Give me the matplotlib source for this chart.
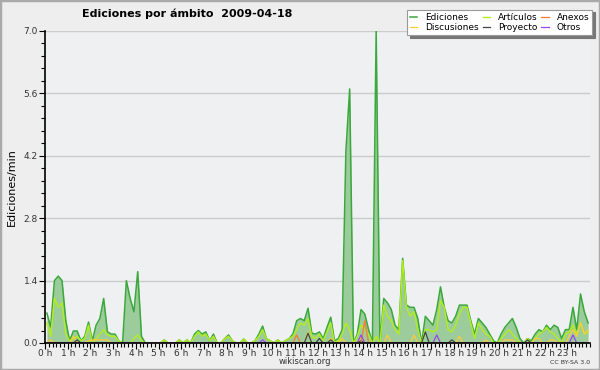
import matplotlib
matplotlib.use('Agg')
import matplotlib.pyplot as plt
from matplotlib.patches import Rectangle
from matplotlib.ticker import MultipleLocator
import numpy as np

# one value every 10 minutes, 6 per row = 1 hour per row
ediciones = [
    0.67, 0.36, 1.4, 1.5, 1.4, 0.5,  0.05, 0.27, 0.27, 0.05, 0.15, 0.47,
    0.05, 0.4, 0.55, 1.0, 0.25, 0.2,  0.2, 0.05, 0.0, 1.4, 1.0, 0.7,
    1.6, 0.15, 0, 0, 0, 0,  0, 0.07, 0, 0, 0, 0.07,
    0, 0.07, 0, 0.2, 0.28, 0.2,  0.25, 0.05, 0.2, 0, 0, 0.1,
    0.18, 0.05, 0, 0, 0.09, 0,  0, 0.05, 0.2, 0.38, 0.1, 0.05,
    0, 0.07, 0, 0.05, 0.1, 0.2,  0.5, 0.55, 0.5, 0.78, 0.22, 0.2,
    0.25, 0.1, 0.35, 0.58, 0.05, 0.1,  0.3, 4.3, 5.7, 0.0, 0.2, 0.75,
    0.65, 0.3, 0.0, 7.0, 0.0, 1.0,  0.9, 0.75, 0.4, 0.3, 1.9, 0.85,
    0.8, 0.8, 0.55, 0.0, 0.6, 0.5,  0.4, 0.75, 1.26, 0.8, 0.5, 0.45,
    0.6, 0.85, 0.85, 0.85, 0.5, 0.2,  0.55, 0.45, 0.35, 0.2, 0.05, 0.0,
    0.2, 0.35, 0.45, 0.55, 0.35, 0.1,  0.0, 0.1, 0.05, 0.2, 0.3, 0.25,
    0.4, 0.3, 0.4, 0.35, 0.1, 0.3,  0.3, 0.8, 0.3, 1.1, 0.7, 0.45,
]
articulos = [
    0.45, 0.15, 1.0, 0.8, 0.9, 0.2,  0.05, 0.1, 0.15, 0.05, 0.1, 0.4,
    0.0, 0.1, 0.2, 0.3, 0.18, 0.15,  0.15, 0.05, 0.0, 0.0, 0.0, 0.1,
    0.18, 0.05, 0, 0, 0, 0,  0, 0.07, 0, 0, 0, 0.07,
    0, 0.07, 0, 0.15, 0.25, 0.15,  0.2, 0.05, 0.15, 0, 0, 0.1,
    0.15, 0.05, 0, 0, 0.09, 0,  0, 0.05, 0.15, 0.3, 0.1, 0.05,
    0, 0.07, 0, 0.05, 0.1, 0.15,  0.3, 0.45, 0.4, 0.55, 0.15, 0.1,
    0.2, 0.05, 0.25, 0.45, 0.0, 0.05,  0.2, 0.45, 0.3, 0.0, 0.15, 0.4,
    0.3, 0.2, 0.0, 0.15, 0.0, 0.85,  0.6, 0.5, 0.3, 0.2, 1.85, 0.8,
    0.6, 0.7, 0.3, 0.0, 0.3, 0.3,  0.25, 0.3, 0.95, 0.8, 0.3, 0.25,
    0.4, 0.65, 0.8, 0.8, 0.45, 0.1,  0.45, 0.3, 0.2, 0.15, 0.0, 0.0,
    0.1, 0.2, 0.3, 0.2, 0.1, 0.0,  0.0, 0.1, 0.0, 0.1, 0.2, 0.25,
    0.35, 0.25, 0.2, 0.1, 0.0, 0.2,  0.25, 0.4, 0.2, 0.45, 0.2, 0.25,
]
discusiones = [
    0, 0.07, 0, 0, 0, 0,  0, 0.15, 0, 0, 0, 0.05,
    0.07, 0.07, 0.07, 0.07, 0.07, 0,  0, 0, 0, 0, 0, 0,
    0, 0, 0, 0, 0, 0,  0, 0, 0, 0, 0, 0,
    0, 0, 0, 0, 0, 0,  0, 0, 0, 0, 0, 0,
    0, 0, 0, 0, 0, 0,  0, 0, 0, 0, 0, 0,
    0, 0, 0, 0, 0, 0,  0, 0, 0, 0.25, 0, 0,
    0, 0, 0, 0.1, 0, 0,  0.1, 0, 0, 0, 0, 0.15,
    0, 0, 0, 0, 0, 0,  0.18, 0, 0, 0, 0, 0,
    0, 0.18, 0, 0, 0, 0,  0, 0, 0, 0, 0, 0,
    0, 0.15, 0, 0, 0, 0,  0, 0, 0.07, 0, 0, 0,
    0, 0.07, 0.07, 0.07, 0, 0,  0, 0, 0, 0.1, 0.1, 0,
    0, 0.07, 0.07, 0, 0, 0,  0.15, 0.3, 0.15, 0.45, 0.2, 0.3,
]
proyecto = [0.0] * 144
for i, v in [(8, 0.07), (69, 0.22), (72, 0.1), (75, 0.07), (83, 0.05),
             (100, 0.25), (107, 0.07), (127, 0.07)]:
    proyecto[i] = v
anexos = [0.0] * 144
for i, v in [(66, 0.18), (84, 0.5)]:
    anexos[i] = v
otros = [0.0] * 144
for i, v in [(57, 0.07), (83, 0.18), (103, 0.18), (139, 0.18)]:
    otros[i] = v

hour_labels = [f"{h} h" for h in range(24)]

t = (np.arange(144) + 0.5) / 6.0

fig = plt.figure(figsize=(6, 3.7), dpi=100, facecolor='#eeeeee')
fig.patches.append(Rectangle((0, 0), 1, 1, transform=fig.transFigure,
                             fill=False, edgecolor='#aaaaaa', lw=2.5))
ax = fig.add_axes([45 / 600, 1 - 343 / 370, 545 / 600, 312 / 370])
ax.set_facecolor('#eef0f2')

ax.fill_between(t, ediciones, 0, color='#9ccb9c', lw=0, zorder=2)
ax.plot(t, ediciones, color='#3aa83a', lw=1.1, label='Ediciones', zorder=3)
ax.plot(t, articulos, color='#b4ee1a', lw=1.0, label='Artículos', zorder=4)
ax.plot(t, discusiones, color='#ffcc33', lw=0.9, label='Discusiones', zorder=5)
ax.plot(t, proyecto, color='#444444', lw=0.9, label='Proyecto', zorder=5)
ax.plot(t, anexos, color='#ff7733', lw=0.9, label='Anexos', zorder=5)
ax.plot(t, otros, color='#9a44ee', lw=0.9, label='Otros', zorder=5)

ax.set_xlim(0, 24)
ax.set_ylim(0, 7.0)
ax.set_xticks(range(24))
ax.set_xticklabels(hour_labels)
ax.xaxis.set_minor_locator(MultipleLocator(1 / 6))
ax.set_yticks(np.arange(0, 7.01, 1.4))
ax.set_yticklabels([f"{v:.1f}" for v in np.arange(0, 7.01, 1.4)])
ax.yaxis.set_minor_locator(MultipleLocator(0.28))
ax.tick_params(axis='both', which='major', length=4, width=0.8, labelsize=6.5,
               colors='#000000', labelcolor='#333333')
ax.tick_params(axis='x', which='major', pad=0)
ax.tick_params(axis='y', which='major', pad=1)
ax.tick_params(axis='both', which='minor', length=3, width=0.8)
ax.grid(axis='y', which='major', color='#cccccc', lw=1, zorder=1)
ax.set_axisbelow(True)
for s in ('top', 'right'):
    ax.spines[s].set_visible(False)
for s in ('left', 'bottom'):
    ax.spines[s].set_linewidth(1.2)
    ax.spines[s].set_zorder(6)

ax.set_ylabel('Ediciones/min', fontsize=8, labelpad=5)

fig.text(187 / 600, 1 - 14 / 370, 'Ediciones por ámbito  2009-04-18', fontsize=8,
         fontweight='bold', ha='center', va='center')
fig.text(305 / 600, 1 - 362 / 370, 'wikiscan.org', fontsize=6,
         ha='center', va='center', color='#333333')
fig.text(590 / 600, 1 - 362 / 370, 'CC BY-SA 3.0', fontsize=4.5,
         ha='right', va='center', color='#333333')

handles, labels = ax.get_legend_handles_labels()
order = ['Ediciones', 'Discusiones', 'Artículos', 'Proyecto', 'Anexos', 'Otros']
hmap = dict(zip(labels, handles))
leg = fig.legend([hmap[k] for k in order], order, ncol=3, loc='upper right',
                 bbox_to_anchor=(597 / 600, 1 - 5 / 370), fontsize=6.5,
                 frameon=True, fancybox=False, shadow={'color': '#777777', 'alpha': 1},
                 edgecolor='#999999', framealpha=1, handlelength=0.8,
                 handletextpad=0.9, columnspacing=0.4, labelspacing=0.15,
                 borderpad=0.35)
leg.get_frame().set_linewidth(0.8)

fig.savefig('out.png', dpi=100, facecolor=fig.get_facecolor())
